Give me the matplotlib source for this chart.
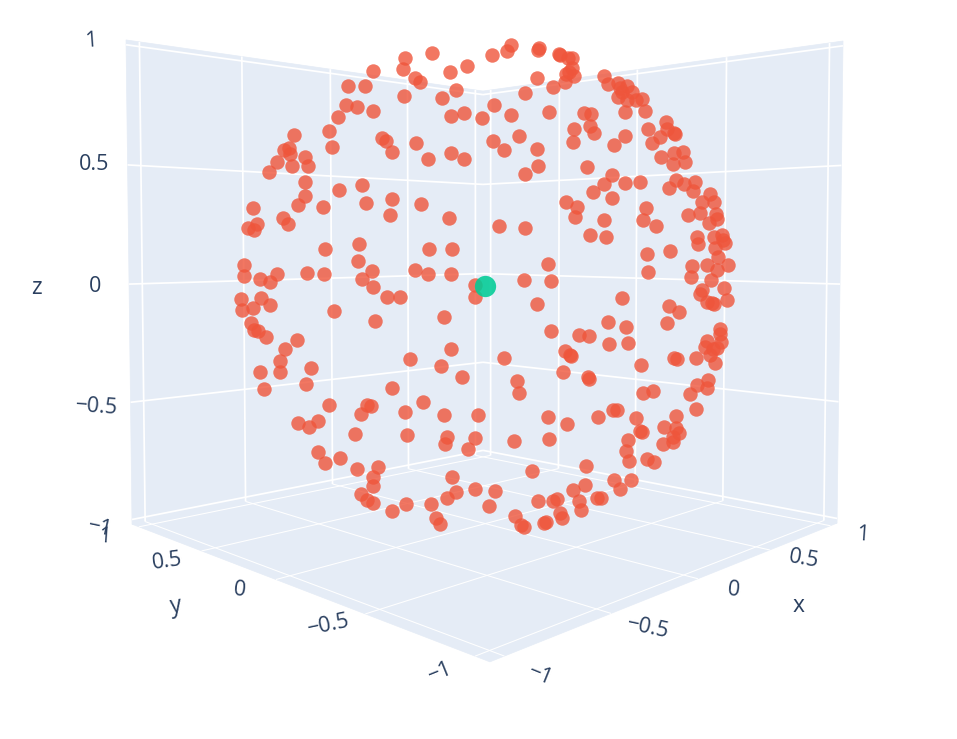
import numpy as np
import matplotlib
matplotlib.use("Agg")
import matplotlib.pyplot as plt
from matplotlib.patches import Polygon

plt.rcParams['font.family'] = ['Open Sans', 'DejaVu Sans']

W, H = 957, 739
tick_values = [-1, -0.5, 0, 0.5, 1]
tick_labels = ['\u22121', '\u22120.5', '0', '0.5', '1']

# sphere points (horizontal / vertical picture position)
sphere_h = [373,348,365,346,357,373,338,294,329,332,382,386,392,284,289,290,305,277,269,292,308,305,305,339,362,392,366,253,298,323,
            405,403,432,467,450,415,420,404,492,507,511,538,539,559,560,568,569,566,565,537,553,525,456,442,494,549,511,464,451,482,519,493,504,537,538,525,416,428,451,464,421,566,
            572,572,574,604,608,618,627,620,622,632,618,627,636,642,625,645,584,591,590,594,574,573,625,614,648,666,667,675,674,660,652,661,674,683,685,673,587,612,604,625,640,593,612,676,669,684,695,693,710,702,714,
            390,283,288,257,248,254,325,359,358,372,362,373,387,400,244,244,260,270,277,307,324,241,242,261,253,270,334,375,251,254,258,266,297,285,280,260,280,311,
            449,499,525,429,452,415,428,451,548,524,551,475,475,537,444,551,451,410,441,504,565,570,563,462,
            577,575,646,643,656,604,590,606,688,700,716,709,717,697,698,714,722,723,725,715,718,647,670,648,692,691,707,717,728,711,702,700,724,727,707,712,714,622,669,679,667,608,626,579,589,609,628,571,720,720,707,721,705,713,717,710,715,696,674,677,641,588,
            264,306,392,329,367,371,361,298,309,318,355,318,325,340,357,378,373,373,361,367,373,392,
            517,519,423,405,444,478,548,567,407,447,445,475,468,514,549,532,452,456,447,475,495,489,406,431,436,440,515,521,524,538,553,557,560,562,544,546,
            589,643,653,690,697,708,707,696,676,598,613,617,636,664,676,679,673,673,663,640,642,628,626,629,647,654,586,614,631,620,585,573,579,581,597,601]
sphere_v = [71,86,86,105,107,111,117,135,131,147,138,141,152,150,148,154,157,162,172,166,166,182,196,190,185,199,203,208,205,207,
            58,69,53,66,72,78,82,96,55,51,45,50,48,54,55,58,72,74,82,78,87,93,90,98,105,112,115,113,116,118,136,141,150,149,166,174,143,159,153,159,204,202,
            58,68,76,76,84,83,86,88,92,92,97,100,100,99,112,111,113,114,126,133,129,142,136,145,129,122,129,134,133,137,143,157,153,152,162,164,167,175,184,183,182,192,198,180,188,184,182,191,194,202,202,
            215,218,224,224,228,230,249,244,261,271,279,287,297,297,265,276,279,282,274,273,274,299,310,298,308,305,311,321,323,330,331,337,340,349,361,372,372,368,
            218,226,228,249,249,270,274,274,264,280,281,285,297,304,317,331,349,359,366,358,351,355,372,377,
            207,217,208,220,226,220,235,237,215,213,214,223,219,237,244,237,235,240,243,248,257,254,251,272,266,277,265,270,265,280,290,294,288,300,302,303,304,298,306,312,323,322,327,335,336,344,343,356,329,334,341,342,347,349,348,355,363,358,358,359,365,377,
            389,384,388,405,405,406,414,423,427,421,434,452,463,458,469,467,477,486,494,500,503,511,
            381,393,402,412,415,415,417,424,435,437,444,438,449,441,439,471,477,492,498,489,491,506,504,504,518,524,516,525,527,501,501,499,513,518,523,522,
            379,393,391,394,385,380,388,409,416,417,410,410,418,427,428,433,437,442,444,431,432,440,451,461,459,462,466,480,480,489,485,490,501,510,498,498]
origin_h = [485]
origin_v = [286]

# axis box extent and where its corners fall in the picture
R_xy, R_z = 1.06, 1.02
box_corners = [(-R_xy, -R_xy, -R_z), (R_xy, -R_xy, -R_z), (-R_xy, R_xy, -R_z), (R_xy, R_xy, -R_z),
               (-R_xy, R_xy, R_z), (R_xy, R_xy, R_z), (R_xy, -R_xy, R_z)]
box_picture = [(490, 662), (837, 523), (132, 524), (483, 454), (126, 40), (483, 91), (843, 41)]


def fit_camera(world, pic):
    rows = []
    for (x, y, z), (u, v) in zip(world, pic):
        rows.append([x, y, z, 1, 0, 0, 0, 0, -u*x, -u*y, -u*z, -u])
        rows.append([0, 0, 0, 0, x, y, z, 1, -v*x, -v*y, -v*z, -v])
    A = np.array(rows, float)
    _, _, vt = np.linalg.svd(A)
    return vt[-1].reshape(3, 4)


P = fit_camera(box_corners, box_picture)


def proj(x, y, z):
    q = P @ np.array([x, y, z, 1.0])
    return q[0]/q[2], q[1]/q[2]


fig = plt.figure(figsize=(W/100, H/100), dpi=100, facecolor='white')
ax = fig.add_axes([0, 0, 1, 1])
ax.set_xlim(0, W)
ax.set_ylim(H, 0)
ax.axis('off')

PANE = '#E5ECF6'
INK = '#2a3f5f'
panes = [[(-R_xy, -R_xy, -R_z), (R_xy, -R_xy, -R_z), (R_xy, R_xy, -R_z), (-R_xy, R_xy, -R_z)],
         [(-R_xy, R_xy, -R_z), (R_xy, R_xy, -R_z), (R_xy, R_xy, R_z), (-R_xy, R_xy, R_z)],
         [(R_xy, R_xy, -R_z), (R_xy, -R_xy, -R_z), (R_xy, -R_xy, R_z), (R_xy, R_xy, R_z)]]
for pane in panes:
    ax.add_patch(Polygon([proj(*c) for c in pane], closed=True, fc=PANE, ec=PANE, lw=0.5, zorder=1))


def seg(a, b, lw):
    pa, pb = proj(*a), proj(*b)
    ax.plot([pa[0], pb[0]], [pa[1], pb[1]], color='white', lw=lw, zorder=2, solid_capstyle='butt')


for t in tick_values:
    # floor
    seg((t, -R_xy, -R_z), (t, R_xy, -R_z), 0.75)
    seg((-R_xy, t, -R_z), (R_xy, t, -R_z), 0.75)
    # back-left wall
    seg((t, R_xy, -R_z), (t, R_xy, R_z), 1.25)
    seg((-R_xy, R_xy, t), (R_xy, R_xy, t), 1.25)
    # back-right wall
    seg((R_xy, t, -R_z), (R_xy, t, R_z), 1.25)
    seg((R_xy, R_xy, t), (R_xy, -R_xy, t), 1.25)

ax.scatter(sphere_h, sphere_v, s=108, c='#EF553B', alpha=0.8, linewidths=0, zorder=3)
ax.scatter(origin_h, origin_v, s=235, c='#00CC96', alpha=0.88, linewidths=0, zorder=4)

FS = 15.5
z_label_pos = [(100, 528), (97, 407), (95, 287), (94, 165), (91, 41)]
z_label_rot = [-12, -4, 0, 0, 4]
y_label_pos = [(440, 672), (329, 625), (240, 590), (167, 561), (105, 537)]
y_label_rot = [22, 12, -6, 8, -4]
x_label_pos = [(540, 675), (648, 628), (734, 590), (804, 559), (863, 535)]
x_label_rot = [-22, -12, -6, -10, -4]
for positions, rots in [(z_label_pos, z_label_rot), (y_label_pos, y_label_rot), (x_label_pos, x_label_rot)]:
    for (px, py), r, lab in zip(positions, rots, tick_labels):
        ax.text(px, py, lab, fontsize=FS, color=INK, ha='center', va='center', rotation=r,
                rotation_mode='anchor', zorder=5)

ax.text(36, 288, 'z', fontsize=16.5, color=INK, ha='center', va='center')
ax.text(176, 606, 'y', fontsize=16.5, color=INK, ha='center', va='center', rotation=8)
ax.text(799, 606, 'x', fontsize=16.5, color=INK, ha='center', va='center')

fig.savefig('out.png', dpi=100, facecolor='white')
